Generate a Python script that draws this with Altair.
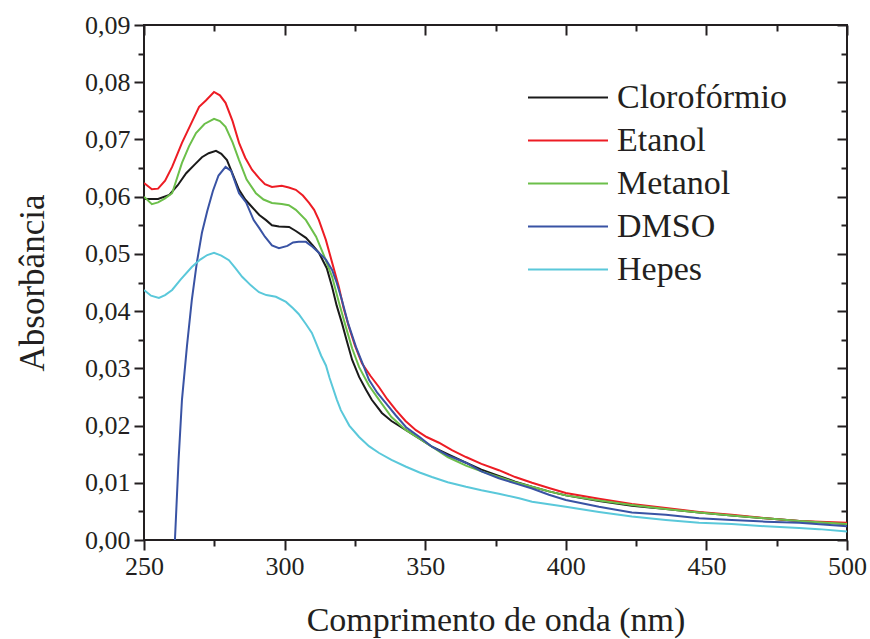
import altair as alt
import pandas as pd

series = ["Clorofórmio", "Etanol", "Metanol", "DMSO", "Hepes"]
colors = ["#1a1a1a", "#ed1c24", "#6cbf4a", "#3953a4", "#5ac8da"]

wl_cloro = [250, 255, 259, 262, 265, 268, 270.6, 273, 275.6, 277.5, 279.5, 281.5, 283.8, 286, 288.4, 291, 293.4, 295.5, 298, 301.6, 304, 307.6, 310, 312.2, 315, 316.9, 318.5, 320.4, 322, 324, 326.5, 329, 331, 334.6, 338, 343.2, 348, 352.4, 358, 364.5, 370, 376.2, 382, 388, 394, 400, 411.8, 423.5, 435.6, 447.4, 459, 471, 483, 500]
ab_cloro = [0.0596, 0.0596, 0.0603, 0.0620, 0.0641, 0.0656, 0.0669, 0.0676, 0.0680, 0.0675, 0.0664, 0.0640, 0.0612, 0.0595, 0.0582, 0.0568, 0.0559, 0.0550, 0.0548, 0.0547, 0.0540, 0.0528, 0.0515, 0.0502, 0.0475, 0.0442, 0.0410, 0.0379, 0.0350, 0.0315, 0.0285, 0.0262, 0.0245, 0.0222, 0.0208, 0.0192, 0.0177, 0.0163, 0.0150, 0.0135, 0.0123, 0.0112, 0.0102, 0.0093, 0.0085, 0.0078, 0.0068, 0.0060, 0.0054, 0.0048, 0.0043, 0.0038, 0.0033, 0.0028]

wl_etanol = [250, 252.8, 255, 257.5, 260, 263.5, 266.5, 269.6, 272, 274.9, 277, 279, 281.5, 283.8, 286, 288.4, 291, 293, 295.5, 299, 301.5, 304, 306.5, 308.7, 310.5, 312.2, 314.7, 317, 319.3, 321, 322.9, 325, 327.5, 330.5, 333.6, 336.5, 339.6, 343, 346.7, 350.5, 354.9, 359.5, 364.5, 370, 376.2, 382, 388, 394, 400, 411.8, 423.5, 435.6, 447.4, 459, 471, 483, 500]
ab_etanol = [0.0624, 0.0613, 0.0614, 0.0628, 0.0652, 0.0694, 0.0725, 0.0757, 0.0768, 0.0783, 0.0777, 0.0764, 0.0732, 0.0694, 0.0668, 0.0647, 0.0632, 0.0622, 0.0617, 0.0619, 0.0616, 0.0612, 0.0602, 0.0589, 0.0577, 0.0559, 0.0524, 0.0483, 0.0442, 0.0405, 0.0372, 0.0340, 0.0309, 0.0287, 0.0267, 0.0246, 0.0227, 0.0208, 0.0192, 0.0180, 0.0170, 0.0157, 0.0145, 0.0133, 0.0122, 0.0110, 0.0100, 0.0091, 0.0082, 0.0072, 0.0063, 0.0056, 0.0049, 0.0044, 0.0038, 0.0033, 0.0030]

wl_metanol = [250, 252.8, 255, 257.5, 260, 263.5, 266, 268.5, 271.5, 274.9, 277, 279, 281.5, 283.8, 286.5, 289.8, 292.5, 295.5, 299, 301.5, 304, 307.6, 311.2, 314, 316.9, 319.5, 321.8, 324, 326.5, 330, 333.6, 338, 343.2, 348, 352.4, 358, 364.5, 370, 376.2, 382, 388, 394, 400, 411.8, 423.5, 435.6, 447.4, 459, 471, 483, 500]
ab_metanol = [0.0600, 0.0587, 0.0590, 0.0597, 0.0606, 0.0659, 0.0688, 0.0711, 0.0727, 0.0736, 0.0732, 0.0722, 0.0695, 0.0664, 0.0630, 0.0606, 0.0595, 0.0589, 0.0587, 0.0585, 0.0577, 0.0559, 0.0530, 0.0497, 0.0460, 0.0412, 0.0372, 0.0335, 0.0302, 0.0270, 0.0245, 0.0215, 0.0192, 0.0177, 0.0163, 0.0145, 0.0130, 0.0120, 0.0110, 0.0101, 0.0093, 0.0085, 0.0078, 0.0069, 0.0061, 0.0054, 0.0048, 0.0043, 0.0038, 0.0033, 0.0028]

wl_dmso = [261, 262.3, 263.5, 265.3, 267, 268.8, 270.6, 272.5, 274.5, 276.5, 279, 281, 283.8, 286.3, 289, 291, 293, 295.5, 298, 301, 303, 305, 307.6, 310, 312, 314.7, 316.9, 318.5, 320.4, 322.5, 325.4, 328, 330, 333, 336, 339.5, 343.2, 348, 352.4, 358, 364.5, 370, 376.2, 382, 388, 394, 400, 411.8, 423.5, 435.6, 447.4, 459, 471, 483, 500]
ab_dmso = [0.0, 0.0140, 0.0245, 0.0340, 0.0419, 0.0485, 0.0537, 0.0575, 0.0610, 0.0637, 0.0652, 0.0645, 0.0606, 0.0590, 0.0559, 0.0545, 0.0530, 0.0515, 0.0510, 0.0514, 0.0520, 0.0521, 0.0521, 0.0512, 0.0503, 0.0490, 0.0472, 0.0450, 0.0419, 0.0380, 0.0337, 0.0305, 0.0280, 0.0257, 0.0239, 0.0218, 0.0197, 0.0180, 0.0163, 0.0148, 0.0135, 0.0120, 0.0108, 0.0099, 0.0090, 0.0079, 0.0070, 0.0058, 0.0048, 0.0044, 0.0038, 0.0035, 0.0032, 0.0030, 0.0024]

wl_hepes = [250, 252.5, 255.3, 257.5, 260, 263, 267, 270, 272.5, 274.9, 277.5, 280.2, 282.5, 284.9, 288, 290.9, 293.5, 296.9, 300.5, 303, 305, 307.5, 309.7, 311.2, 313, 314.7, 316, 318.6, 320, 323, 326.5, 330, 333.6, 338, 343.2, 348, 352.4, 358, 364.5, 370, 376.2, 383.4, 388, 400, 411.8, 423.5, 435.6, 447.4, 459, 471, 483, 490, 500]
ab_hepes = [0.0437, 0.0427, 0.0423, 0.0428, 0.0437, 0.0455, 0.0477, 0.0490, 0.0498, 0.0502, 0.0497, 0.0489, 0.0475, 0.0460, 0.0445, 0.0433, 0.0428, 0.0425, 0.0416, 0.0405, 0.0395, 0.0378, 0.0362, 0.0344, 0.0322, 0.0305, 0.0283, 0.0245, 0.0227, 0.0200, 0.0180, 0.0164, 0.0152, 0.0140, 0.0128, 0.0118, 0.0110, 0.0101, 0.0093, 0.0087, 0.0081, 0.0073, 0.0067, 0.0058, 0.0049, 0.0041, 0.0035, 0.0030, 0.0028, 0.0024, 0.0021, 0.0019, 0.0015]

x_major = [250, 300, 350, 400, 450, 500]
x_minor = [275, 325, 375, 425, 475]
y_major = [0.0, 0.01, 0.02, 0.03, 0.04, 0.05, 0.06, 0.07, 0.08, 0.09]
y_minor = [0.005, 0.015, 0.025, 0.035, 0.045, 0.055, 0.065, 0.075, 0.085]

frames = []
for name, wl, ab in [("Clorofórmio", wl_cloro, ab_cloro), ("Etanol", wl_etanol, ab_etanol),
                     ("Metanol", wl_metanol, ab_metanol), ("DMSO", wl_dmso, ab_dmso),
                     ("Hepes", wl_hepes, ab_hepes)]:
    frames.append(pd.DataFrame({"wl": wl, "ab": ab, "serie": name}))
df = pd.concat(frames, ignore_index=True)

FONT = "'Liberation Serif', 'DejaVu Serif', serif"
TXT = "#231f20"
xs = alt.Scale(domain=[250, 500], nice=False, zero=False)
ys = alt.Scale(domain=[0, 0.09], nice=False, zero=False)
lbl = "replace(format(datum.value, '.2f'), '.', ',')"

def tick_axis(orient, values, size, offset=0):
    return alt.Axis(orient=orient, values=values, tickSize=size, tickWidth=2, tickColor=TXT,
                    labels=False, domain=False, grid=False, title="", offset=offset)

base = alt.Chart(df)

lines = base.mark_line(strokeWidth=2, clip=True).encode(
    x=alt.X("wl:Q", scale=xs,
            axis=alt.Axis(orient="bottom", values=x_major, tickSize=10, tickWidth=2, tickColor=TXT,
                          labelFontSize=26, labelFont=FONT, labelColor=TXT, labelPadding=3,
                          labelFlush=False, labelBound=False,
                          domain=False, grid=False, title="Comprimento de onda (nm)",
                          titleFont=FONT, titleFontSize=34, titleFontWeight="normal",
                          titleColor=TXT, titlePadding=24)),
    y=alt.Y("ab:Q", scale=ys,
            axis=alt.Axis(orient="left", values=y_major, tickSize=10, tickWidth=2, tickColor=TXT,
                          labelFontSize=26, labelFont=FONT, labelColor=TXT, labelPadding=4,
                          labelFlush=False, labelBound=False,
                          labelExpr=lbl, domain=False, grid=False, title="Absorbância",
                          titleFont=FONT, titleFontSize=35, titleFontWeight="normal",
                          titleColor=TXT, titlePadding=34)),
    color=alt.Color("serie:N", scale=alt.Scale(domain=series, range=colors), sort=series,
                    legend=alt.Legend(title=None, orient="none", legendX=383, legendY=51,
                                      symbolType="stroke", symbolSize=6400, symbolStrokeWidth=2,
                                      labelFont=FONT, labelFontSize=34, labelColor=TXT,
                                      labelLimit=400, labelOffset=8, rowPadding=0, clipHeight=43)),
    order=alt.Order("serie:N"),
)

minor_bl = base.mark_point(opacity=0).encode(
    x=alt.X("wl:Q", scale=xs, axis=tick_axis("bottom", x_minor, 6)),
    y=alt.Y("ab:Q", scale=ys, axis=tick_axis("left", y_minor, 6)),
)
major_tr = base.mark_point(opacity=0).encode(
    x=alt.X("wl:Q", scale=xs, axis=tick_axis("top", x_major, 10, -10)),
    y=alt.Y("ab:Q", scale=ys, axis=tick_axis("right", y_major, 10, -10)),
)
minor_tr = base.mark_point(opacity=0).encode(
    x=alt.X("wl:Q", scale=xs, axis=tick_axis("top", x_minor, 6, -6)),
    y=alt.Y("ab:Q", scale=ys, axis=tick_axis("right", y_minor, 6, -6)),
)

chart = alt.layer(lines, minor_bl, major_tr, minor_tr).resolve_axis(
    x="independent", y="independent"
).properties(
    width=703, height=515,
    autosize=alt.AutoSizeParams(type="none"),
    padding={"left": 144, "top": 25, "right": 23, "bottom": 99},
    background="white",
).configure_view(stroke=TXT, strokeWidth=2)

chart.save("out.html", embed_options={"renderer": "svg", "actions": False})
